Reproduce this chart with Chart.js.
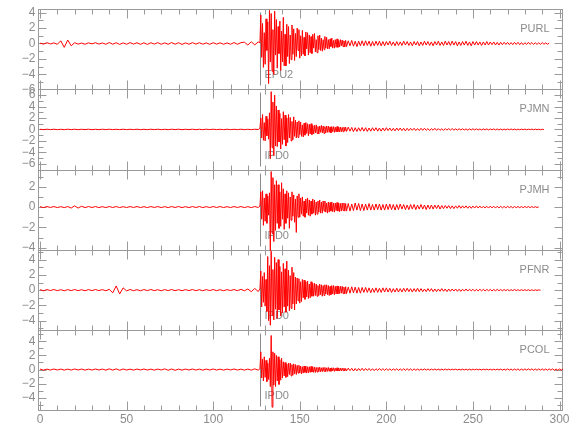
<!DOCTYPE html>
<html>
<head>
<meta charset="utf-8">
<script src="https://cdn.jsdelivr.net/npm/chart.js@4.4.1/dist/chart.umd.min.js"></script>
<style>
  html, body { margin: 0; padding: 0; background: #fff; }
  #wrap { position: relative; width: 580px; height: 440px; }
</style>
</head>
<body>
<div id="wrap"><canvas id="seis" width="580" height="440"></canvas></div>
<script>
// sampling of the traces (seconds): pre-event, main shaking, coda
var preStart = 0, preStep = 2;
var mainStart = 127, mainStep = 0.5;
var codaStart = 177, codaStep = 1;

var stations = ['PURL', 'PJMN', 'PJMH', 'PFNR', 'PCOL'];
var phases = ['EPU2', 'IPD0', 'IPD0', 'IPD0', 'IPD0'];
var pickTimes = [127.1, 127.0, 127.0, 127.3, 127.3];
var yMins = [-5.95, -7, -4.2, -5.2, -5.7];
var yMaxs = [4.45, 7, 3.7, 5.3, 5.6];
var yTickVals = [
    [-6, -4, -2, 0, 2, 4],
    [-6, -4, -2, 0, 2, 4, 6],
    [-4, -2, 0, 2],
    [-4, -2, 0, 2, 4],
    [-4, -2, 0, 2, 4]
];
var xTicks = [0, 50, 100, 150, 200, 250, 300];

// PURL
var purlPre = [0.05, -0.08, 0.1, -0.06, 0.08, -0.1, 0.35, -0.5, 0.45, -0.3,
    0.1, -0.08, 0.06, -0.1, 0.08, -0.05, 0.1, -0.08, 0.07, -0.1,
    0.12, -0.09, 0.1, -0.12, 0.08, -0.1, 0.12, -0.08, 0.1, -0.11,
    0.09, -0.12, 0.1, -0.08, 0.11, -0.1, 0.08, -0.1, 0.12, -0.09,
    0.1, -0.12, 0.08, -0.1, 0.11, -0.08, 0.1, -0.09, 0.08, -0.11,
    0.1, -0.08, 0.09, -0.1, 0.08, -0.1, 0.12, -0.1, 0.1, 0.18,
    -0.2, 0.22, -0.18, 0.2];
var purlMain = [0.1, 3.7, -1.8, 2.6, -3.1, 1.4, -2.7, 3.2, -0.9, 2.8,
    -5.2, 4.3, -2.4, 3.9, -3.6, 1.8, -4.0, 4.2, -1.5, 3.1,
    -3.2, 2.2, -1.3, 2.9, -3.5, 1.6, -2.4, 3.4, -2.9, 1.2,
    -2.9, 2.5, -1.7, 2.2, -2.6, 1.1, -2.1, 2.4, -1.4, 1.9,
    -2.2, 1.3, -1.7, 2.0, -0.9, 1.8, -1.9, 1.0, -1.6, 1.7,
    -1.4, 0.8, -1.6, 1.5, -0.7, 1.4, -1.5, 1.1, -1.2, 0.9,
    -1.3, 1.2, -0.6, 1.3, -1.1, 0.5, -1.2, 1.0, -0.8, 1.1,
    -0.9, 0.7, -1.0, 0.5, -0.8, 0.9, -0.6, 0.8, -0.7, 0.5,
    -0.7, 0.6, -0.4, 0.7, -0.6, 0.4, -0.6, 0.5, -0.5, 0.6,
    -0.5, 0.4, -0.45, 0.5, -0.3, 0.45, -0.4, 0.35, -0.45, 0.4];
var purlCoda = [-0.4, 0.35, -0.3, 0.4, -0.35, 0.3, -0.4, 0.3, -0.3, 0.35,
    -0.3, 0.35, -0.25, 0.3, -0.35, 0.25, -0.3, 0.3, -0.25, 0.3,
    -0.3, 0.25, -0.3, 0.25, -0.2, 0.3, -0.25, 0.2, -0.3, 0.25,
    -0.25, 0.2, -0.25, 0.3, -0.2, 0.25, -0.25, 0.2, -0.3, 0.25,
    -0.2, 0.25, -0.3, 0.2, -0.25, 0.3, -0.2, 0.25, -0.25, 0.2,
    -0.3, 0.25, -0.2, 0.3, -0.25, 0.2, -0.25, 0.3, -0.2, 0.25,
    -0.25, 0.3, -0.2, 0.25, -0.3, 0.2, -0.25, 0.25, -0.2, 0.3,
    -0.25, 0.2, -0.3, 0.25, -0.2, 0.25, -0.2, 0.2, -0.25, 0.2,
    -0.2, 0.25, -0.2, 0.2, -0.15, 0.2, -0.2, 0.15, -0.2, 0.15,
    -0.15, 0.15, -0.12, 0.15, -0.15, 0.12, -0.15, 0.15, -0.12, 0.15,
    -0.15, 0.12, -0.15, 0.1, -0.12, 0.15, -0.1, 0.12, -0.12, 0.1,
    -0.12, 0.1, -0.1, 0.12, -0.1, 0.08, -0.1, 0.05];

// PJMN
var pjmnPre = [0.03, -0.04, 0.04, -0.03, 0.04, -0.04, 0.03, -0.04, 0.04, -0.03,
    0.04, -0.04, 0.03, -0.03, 0.04, -0.04, 0.03, -0.04, 0.04, -0.03,
    0.04, -0.03, 0.03, -0.04, 0.04, -0.04, 0.03, -0.03, 0.04, -0.04,
    0.03, -0.04, 0.04, -0.03, 0.04, -0.04, 0.03, -0.04, 0.04, -0.03,
    0.04, -0.04, 0.03, -0.03, 0.04, -0.04, 0.03, -0.04, 0.04, -0.03,
    0.04, -0.03, 0.03, -0.04, 0.04, -0.04, 0.03, -0.03, 0.04, -0.04,
    0.03, -0.04, 0.04, -0.03];
var pjmnMain = [0.2, 2.0, -1.5, 2.6, -1.9, 1.2, -2.0, 2.3, -1.1, 1.8,
    -1.7, 2.9, -5.1, 6.6, -3.2, 4.8, -4.6, 6.0, -2.9, 4.1,
    -3.0, 3.4, -2.2, 2.8, -3.4, 1.9, -2.6, 3.1, -1.8, 2.5,
    -2.9, 2.0, -2.3, 2.6, -1.5, 2.1, -2.0, 1.4, -1.8, 2.2,
    -1.2, 1.6, -1.5, 1.3, -1.4, 1.5, -0.9, 1.3, -1.2, 0.8,
    -1.3, 1.1, -1.0, 1.2, -0.7, 1.0, -1.1, 0.9, -0.8, 1.0,
    -0.9, 0.7, -0.8, 0.7, -0.6, 0.8, -0.7, 0.5, -0.8, 0.6,
    -0.5, 0.7, -0.6, 0.6, -0.7, 0.5, -0.6, 0.6, -0.5, 0.6,
    -0.5, 0.45, -0.6, 0.5, -0.4, 0.5, -0.5, 0.4, -0.45, 0.5,
    -0.4, 0.45, -0.4, 0.4, -0.4, 0.35, -0.4, 0.4, -0.3, 0.4];
var pjmnCoda = [-0.35, 0.4, -0.3, 0.35, -0.4, 0.3, -0.35, 0.3, -0.3, 0.35,
    -0.3, 0.3, -0.35, 0.25, -0.3, 0.3, -0.25, 0.3, -0.3, 0.25,
    -0.3, 0.25, -0.25, 0.3, -0.2, 0.25, -0.25, 0.2, -0.25, 0.25,
    -0.2, 0.25, -0.2, 0.2, -0.25, 0.2, -0.2, 0.2, -0.15, 0.2,
    -0.2, 0.15, -0.2, 0.2, -0.15, 0.2, -0.15, 0.15, -0.2, 0.15,
    -0.15, 0.2, -0.15, 0.15, -0.15, 0.12, -0.15, 0.15, -0.12, 0.15,
    -0.12, 0.15, -0.12, 0.1, -0.12, 0.12, -0.1, 0.12, -0.1, 0.1,
    -0.12, 0.1, -0.1, 0.12, -0.08, 0.1, -0.1, 0.08, -0.1, 0.1,
    -0.08, 0.1, -0.1, 0.08, -0.08, 0.1, -0.08, 0.08, -0.1, 0.08,
    -0.08, 0.06, -0.08, 0.08, -0.06, 0.08, -0.06, 0.06, -0.08, 0.06,
    -0.06, 0.06, -0.05, 0.06, -0.06, 0.05, -0.05, 0.06, -0.05, 0.05,
    -0.05, 0.04, -0.05, 0.04, -0.03];

// PJMH
var pjmhPre = [0.04, -0.05, 0.05, -0.04, 0.05, -0.05, 0.04, -0.05, 0.05, -0.1,
    0.12, -0.1, 0.08, -0.05, 0.05, -0.04, 0.05, -0.05, 0.04, -0.05,
    0.05, -0.04, 0.05, -0.05, 0.04, -0.05, 0.05, -0.04, 0.05, -0.05,
    0.04, -0.05, 0.05, -0.04, 0.05, -0.05, 0.04, -0.05, 0.05, -0.04,
    0.05, -0.05, 0.04, -0.05, 0.05, -0.04, 0.05, -0.05, 0.04, -0.05,
    0.05, -0.04, 0.05, -0.05, 0.04, -0.05, 0.05, -0.04, 0.05, -0.05,
    0.04, -0.05, 0.05, -0.04];
var pjmhMain = [0.1, 1.5, -1.2, 1.6, -1.8, 0.9, -1.4, 1.3, -1.6, 1.1,
    -0.8, 1.4, -4.3, 3.5, -2.6, 2.9, -3.4, 2.2, -2.3, 2.6,
    -1.6, 2.2, -2.1, 1.5, -1.9, 2.4, -1.2, 1.8, -2.2, 1.3,
    -1.6, 1.6, -1.1, 1.4, -2.1, 1.0, -1.3, 1.5, -0.9, 1.2,
    -1.5, 0.8, -2.5, 1.1, -1.0, 1.3, -1.0, 0.9, -0.7, 1.0,
    -0.9, 0.6, -1.0, 0.8, -0.6, 0.9, -0.8, 0.7, -0.9, 0.6,
    -0.7, 0.8, -0.6, 0.7, -0.8, 0.5, -0.7, 0.6, -0.5, 0.7,
    -0.6, 0.5, -0.6, 0.6, -0.4, 0.6, -0.5, 0.4, -0.6, 0.5,
    -0.5, 0.45, -0.4, 0.5, -0.45, 0.4, -0.5, 0.4, -0.35, 0.45,
    -0.4, 0.4, -0.45, 0.35, -0.4, 0.4, -0.35, 0.4, -0.4, 0.35];
var pjmhCoda = [-0.4, 0.35, -0.4, 0.3, -0.35, 0.4, -0.3, 0.35, -0.35, 0.3,
    -0.35, 0.3, -0.3, 0.35, -0.3, 0.25, -0.3, 0.3, -0.25, 0.3,
    -0.3, 0.25, -0.3, 0.3, -0.25, 0.3, -0.25, 0.25, -0.3, 0.25,
    -0.25, 0.3, -0.2, 0.25, -0.25, 0.2, -0.25, 0.25, -0.2, 0.25,
    -0.25, 0.2, -0.2, 0.25, -0.2, 0.2, -0.25, 0.2, -0.2, 0.2,
    -0.2, 0.2, -0.15, 0.2, -0.2, 0.15, -0.15, 0.15, -0.12, 0.15,
    -0.15, 0.12, -0.15, 0.12, -0.12, 0.15, -0.12, 0.12, -0.1, 0.12,
    -0.12, 0.1, -0.12, 0.1, -0.1, 0.12, -0.1, 0.1, -0.1, 0.08,
    -0.1, 0.08, -0.1, 0.1, -0.08, 0.08, -0.1, 0.08, -0.08, 0.08,
    -0.08, 0.06, -0.08, 0.08, -0.06, 0.06, -0.08, 0.06, -0.06, 0.06,
    -0.06, 0.05, -0.06, 0.06, -0.05, 0.05, -0.05, 0.05, -0.05, 0.04,
    -0.04, 0.02];

// PFNR
var pfnrPre = [0.06, -0.08, 0.07, -0.06, 0.08, -0.07, 0.06, -0.08, 0.07, -0.06,
    0.08, -0.07, 0.06, -0.08, 0.07, -0.06, 0.08, -0.06, 0.07, -0.08,
    0.1, -0.35, 0.55, -0.5, 0.3, -0.1, 0.08, -0.07, 0.06, -0.08,
    0.07, -0.06, 0.08, -0.07, 0.06, -0.08, 0.07, -0.06, 0.08, -0.07,
    0.06, -0.08, 0.07, -0.06, 0.08, -0.07, 0.06, -0.08, 0.07, -0.06,
    0.08, -0.07, 0.06, -0.08, 0.07, -0.06, 0.08, -0.07, 0.1, -0.08,
    0.15, -0.2, 0.22, -0.18];
var pfnrMain = [0.15, 2.5, -2.2, 1.8, -1.6, 2.3, -2.1, 1.4, -2.8, 4.4,
    -4.0, 3.2, -4.6, 5.1, -3.3, 2.7, -3.9, 4.3, -2.5, 3.6,
    -3.7, 4.0, -2.6, 3.1, -3.4, 2.4, -3.0, 3.5, -2.2, 2.8,
    -2.9, 3.8, -2.1, 2.6, -2.7, 1.9, -2.4, 3.0, -1.8, 2.3,
    -2.6, 1.7, -1.8, 1.6, -1.4, 1.5, -1.7, 1.1, -1.5, 1.4,
    -1.0, 1.3, -1.2, 1.1, -0.9, 1.2, -1.1, 0.8, -1.0, 1.1,
    -0.8, 0.9, -0.8, 0.9, -0.7, 0.8, -0.8, 0.6, -0.7, 0.8,
    -0.6, 0.7, -0.8, 0.6, -0.7, 0.7, -0.5, 0.7, -0.6, 0.6,
    -0.7, 0.5, -0.6, 0.6, -0.5, 0.6, -0.6, 0.5, -0.5, 0.55,
    -0.5, 0.5, -0.45, 0.5, -0.4, 0.5, -0.45, 0.4, -0.5, 0.45];
var pfnrCoda = [-0.45, 0.4, -0.4, 0.45, -0.35, 0.4, -0.4, 0.35, -0.4, 0.35,
    -0.3, 0.35, -0.3, 0.3, -0.35, 0.25, -0.3, 0.3, -0.3, 0.25,
    -0.3, 0.3, -0.25, 0.3, -0.25, 0.25, -0.3, 0.2, -0.25, 0.25,
    -0.25, 0.2, -0.25, 0.25, -0.2, 0.25, -0.2, 0.2, -0.25, 0.2,
    -0.2, 0.25, -0.2, 0.2, -0.2, 0.15, -0.2, 0.2, -0.15, 0.2,
    -0.2, 0.15, -0.2, 0.15, -0.15, 0.2, -0.15, 0.15, -0.2, 0.15,
    -0.15, 0.15, -0.12, 0.15, -0.15, 0.12, -0.15, 0.12, -0.12, 0.15,
    -0.12, 0.12, -0.1, 0.12, -0.12, 0.1, -0.1, 0.12, -0.1, 0.1,
    -0.1, 0.1, -0.08, 0.1, -0.1, 0.08, -0.08, 0.1, -0.08, 0.08,
    -0.08, 0.08, -0.06, 0.08, -0.08, 0.06, -0.06, 0.08, -0.06, 0.06,
    -0.06, 0.06, -0.05, 0.06, -0.05, 0.05, -0.06, 0.05, -0.05, 0.04,
    -0.04, 0.04, -0.02];

// PCOL
var pcolPre = [0.07, -0.08, 0.06, -0.07, 0.08, -0.06, 0.07, -0.08, 0.06, -0.07,
    0.08, -0.06, 0.07, -0.08, 0.06, -0.07, 0.08, -0.06, 0.07, -0.08,
    0.1, -0.08, 0.1, -0.1, 0.08, -0.07, 0.06, -0.08, 0.07, -0.06,
    0.08, -0.07, 0.06, -0.08, 0.07, -0.06, 0.1, -0.1, 0.08, -0.1,
    0.06, -0.08, 0.07, -0.06, 0.08, -0.07, 0.06, -0.08, 0.07, -0.06,
    0.08, -0.07, 0.06, -0.08, 0.07, -0.06, 0.08, -0.07, 0.06, -0.08,
    0.07, -0.08, 0.1, -0.08];
var pcolMain = [0.1, 2.5, -1.2, 1.5, -1.6, 1.8, -1.1, 1.3, -1.7, 0.9,
    -1.4, 1.6, -2.4, 4.8, -5.3, 2.5, -2.2, 2.3, -2.4, 2.0,
    -1.6, 1.8, -2.1, 1.4, -1.5, 1.6, -1.2, 1.1, -0.9, 1.0,
    -1.1, 0.8, -1.0, 0.9, -0.7, 0.9, -0.9, 0.7, -0.8, 0.8,
    -0.6, 0.7, -0.7, 0.6, -0.5, 0.6, -0.5, 0.5, -0.6, 0.4,
    -0.5, 0.5, -0.4, 0.5, -0.5, 0.4, -0.45, 0.4, -0.4, 0.45,
    -0.35, 0.4, -0.4, 0.35, -0.4, 0.3, -0.35, 0.3, -0.3, 0.35,
    -0.3, 0.25, -0.3, 0.3, -0.25, 0.3, -0.3, 0.25, -0.25, 0.3,
    -0.25, 0.2, -0.25, 0.25, -0.2, 0.25, -0.25, 0.2, -0.2, 0.25,
    -0.2, 0.2, -0.2, 0.2, -0.2, 0.2, -0.15, 0.2, -0.2, 0.15];
var pcolCoda = [-0.18, 0.2, -0.15, 0.18, -0.2, 0.15, -0.18, 0.15, -0.15, 0.18,
    -0.15, 0.15, -0.12, 0.15, -0.15, 0.12, -0.15, 0.12, -0.12, 0.15,
    -0.12, 0.12, -0.1, 0.12, -0.12, 0.1, -0.12, 0.1, -0.1, 0.12,
    -0.12, 0.1, -0.12, 0.12, -0.1, 0.12, -0.1, 0.1, -0.12, 0.1,
    -0.1, 0.08, -0.1, 0.08, -0.08, 0.1, -0.08, 0.08, -0.08, 0.06,
    -0.06, 0.08, -0.06, 0.06, -0.08, 0.06, -0.06, 0.08, -0.06, 0.06,
    -0.06, 0.06, -0.05, 0.06, -0.06, 0.05, -0.06, 0.06, -0.05, 0.06,
    -0.06, 0.05, -0.06, 0.06, -0.05, 0.06, -0.05, 0.05, -0.06, 0.05,
    -0.05, 0.06, -0.05, 0.05, -0.06, 0.05, -0.05, 0.06, -0.05, 0.06,
    -0.08, 0.06, -0.08, 0.1, -0.08, 0.08, -0.1, 0.08, -0.08, 0.1,
    -0.1, 0.08, -0.1, 0.1, -0.08, 0.1, -0.08, 0.1, -0.1, 0.08,
    -0.1, 0.1, -0.08, 0.1, -0.1, 0.08, -0.1, 0.1, -0.08, 0.1,
    -0.1, 0.08, -0.1, 0.08, -0.08, 0.06];

var traces = [
    [purlPre, purlMain, purlCoda],
    [pjmnPre, pjmnMain, pjmnCoda],
    [pjmhPre, pjmhMain, pjmhCoda],
    [pfnrPre, pfnrMain, pfnrCoda],
    [pcolPre, pcolMain, pcolCoda]
];

var gray = '#8c8c8c';
var frameGray = '#9a9a9a';
var tickFont = { family: "'Liberation Sans Narrow', 'Liberation Sans', sans-serif", size: 12 };

function buildTrace(parts) {
    var pts = [];
    parts[0].forEach(function (v, i) { pts.push({ x: preStart + i * preStep, y: v }); });
    parts[1].forEach(function (v, i) { pts.push({ x: mainStart + i * mainStep, y: v }); });
    parts[2].forEach(function (v, i) { pts.push({ x: codaStart + i * codaStep, y: v }); });
    return pts;
}

function minus(v) {
    return String(v).replace('-', '\u2212');
}

// panel frames, inward ticks, phase picks and station names
var panelsPlugin = {
    id: 'panels',
    beforeDatasetsDraw: function (chart) {
        var ctx = chart.ctx;
        var xs = chart.scales.x;
        var L = Math.round(chart.chartArea.left) + 0.5;
        var R = Math.round(chart.chartArea.right) - 0.5;
        ctx.save();
        ctx.lineWidth = 1;
        stations.forEach(function (name, k) {
            var ys = chart.scales['y' + k];
            var T = Math.round(ys.top) + 0.5;
            var B = Math.round(ys.bottom) + 0.5;
            ctx.strokeStyle = frameGray;
            ctx.strokeRect(L, T, R - L, B - T);
            ctx.beginPath();
            for (var t = 0; t <= 300; t += 10) {
                var px = Math.round(xs.getPixelForValue(t)) + 0.5;
                var len = (t % 50 === 0) ? 9 : 5;
                ctx.moveTo(px, T); ctx.lineTo(px, T + len);
                ctx.moveTo(px, B); ctx.lineTo(px, B - len);
            }
            for (var v = Math.ceil(yMins[k]); v <= Math.floor(yMaxs[k]); v++) {
                var py = Math.round(ys.getPixelForValue(v)) + 0.5;
                var l2 = (v % 2 === 0) ? 8 : 5;
                ctx.moveTo(L, py); ctx.lineTo(L + l2, py);
                ctx.moveTo(R, py); ctx.lineTo(R - l2, py);
            }
            ctx.stroke();

            // phase pick
            var pk = Math.round(xs.getPixelForValue(pickTimes[k])) + 0.5;
            ctx.strokeStyle = gray;
            ctx.beginPath();
            ctx.moveTo(pk, T + 3);
            ctx.lineTo(pk, B - 4);
            ctx.stroke();

            ctx.fillStyle = gray;
            ctx.font = "11px 'Liberation Sans Narrow', 'Liberation Sans', sans-serif";
            ctx.textBaseline = 'middle';
            ctx.textAlign = 'left';
            ctx.fillText(phases[k], pk + 4, B - 15);
            ctx.textAlign = 'right';
            ctx.fillText(name, R - 13, T + 19);
        });
        ctx.restore();
    }
};

var scales = {
    x: {
        type: 'linear',
        position: 'bottom',
        min: -1.45,
        max: 302,
        grid: { display: false, drawTicks: false },
        border: { display: false },
        afterBuildTicks: function (s) { s.ticks = xTicks.map(function (v) { return { value: v }; }); },
        afterFit: function (s) { s.height = 22; },
        ticks: { color: gray, font: tickFont, padding: 2, maxRotation: 0, autoSkip: false }
    }
};
stations.forEach(function (name, k) {
    scales['y' + k] = {
        type: 'linear',
        position: 'left',
        stack: 'seis',
        stackWeight: 1,
        weight: 5 - k,
        min: yMins[k],
        max: yMaxs[k],
        grid: { display: false, drawTicks: false },
        border: { display: false },
        afterBuildTicks: function (s) { s.ticks = yTickVals[k].map(function (v) { return { value: v }; }); },
        afterFit: function (s) { s.width = 30; },
        ticks: {
            color: gray, font: tickFont, padding: 2, autoSkip: false,
            callback: function (v) { return minus(v); }
        }
    };
});

new Chart(document.getElementById('seis'), {
    type: 'line',
    data: {
        datasets: stations.map(function (name, k) {
            return {
                label: name,
                data: buildTrace(traces[k]),
                xAxisID: 'x',
                yAxisID: 'y' + k,
                borderColor: '#ff0000',
                borderWidth: 1,
                pointRadius: 0,
                tension: 0,
                clip: false,
                parsing: false
            };
        })
    },
    options: {
        responsive: false,
        maintainAspectRatio: false,
        animation: false,
        devicePixelRatio: 1,
        layout: { padding: { left: 7.5, right: 17, top: 5, bottom: 8 } },
        plugins: { legend: { display: false }, tooltip: { enabled: false } },
        scales: scales
    },
    plugins: [panelsPlugin]
});
</script>
</body>
</html>
